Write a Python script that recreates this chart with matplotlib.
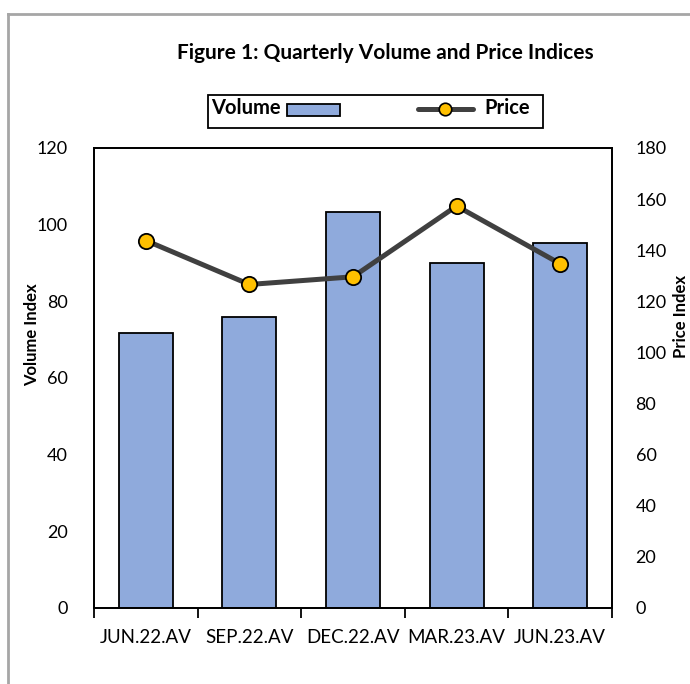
import numpy as np
import matplotlib.pyplot as plt
from matplotlib.lines import Line2D
from matplotlib.patches import Rectangle

# ============================================================
# data
# ============================================================
quarters = ["JUN.22.AV", "SEP.22.AV", "DEC.22.AV", "MAR.23.AV", "JUN.23.AV"]
volume_index = [71.8, 75.8, 103.4, 89.9, 95.3]
price_index = [143.8, 126.6, 129.6, 157.3, 134.7]

plt.rcParams["font.family"] = ["Lato", "DejaVu Sans"]

W, H = 690, 684
fig = plt.figure(figsize=(W / 100, H / 100), dpi=100)


def fx(x):
    return x / W


def fy(y):
    return 1 - y / H


ax = fig.add_axes([fx(94), fy(608), fx(612) - fx(94), fy(148) - fy(608)])
ax2 = ax.twinx()

x = np.arange(len(quarters))

ax.bar(x, volume_index, width=0.52, color="#8FAADC", edgecolor="black",
       linewidth=1.3, zorder=2)
ax2.plot(x, price_index, color="#404040", linewidth=3.6, marker="o",
         markersize=11, markerfacecolor="#FFC000", markeredgecolor="black",
         markeredgewidth=1.3, zorder=3)

ax.set_xlim(-0.5, len(quarters) - 0.5)
ax.set_ylim(0, 120)
ax2.set_ylim(0, 180)
ax.set_yticks(np.arange(0, 121, 20))
ax2.set_yticks(np.arange(0, 181, 20))

# category boundary ticks on x axis
ax.set_xticks(np.arange(len(quarters) + 1) - 0.5)
ax.set_xticklabels([])
ax.set_xticks(x, minor=True)
ax.set_xticklabels(quarters, minor=True, fontsize=13.5)
ax.tick_params(axis="x", which="major", length=7, width=1.3, direction="out")
ax.tick_params(axis="x", which="minor", length=0, pad=15)
ax.tick_params(axis="y", length=0, labelsize=13, pad=19)
ax2.tick_params(axis="y", length=0, labelsize=13, pad=17)

for a in (ax, ax2):
    for s in a.spines.values():
        s.set_linewidth(1.3)
        s.set_color("black")

ax.set_zorder(ax2.get_zorder() - 1)
ax.patch.set_visible(True)
ax2.patch.set_visible(False)

fig.text(fx(32), fy(335), "Volume Index", rotation=90, fontsize=12,
         fontweight="bold", ha="center", va="center")
fig.text(fx(681), fy(316), "Price Index", rotation=90, fontsize=12,
         fontweight="bold", ha="center", va="center")

fig.text(fx(385), fy(53), "Figure 1: Quarterly Volume and Price Indices",
         fontsize=15, fontweight="bold", ha="center", va="center")

# legend drawn by hand (Excel layout: text before patch, marker before text)
fig.add_artist(Rectangle((fx(208), fy(128)), fx(543) - fx(208),
                         fy(95) - fy(128), transform=fig.transFigure,
                         facecolor="white", edgecolor="black", linewidth=1.3))
fig.text(fx(211), fy(108), "Volume", fontsize=14.5, fontweight="bold",
         ha="left", va="center")
fig.add_artist(Rectangle((fx(287), fy(116)), fx(340) - fx(287),
                         fy(104) - fy(116), transform=fig.transFigure,
                         facecolor="#8FAADC", edgecolor="black", linewidth=1.3))
fig.add_artist(Line2D([fx(418), fx(473)], [fy(109), fy(109)],
                      transform=fig.transFigure, color="#404040",
                      linewidth=3.6, solid_capstyle="round"))
fig.add_artist(Line2D([fx(445)], [fy(109)], transform=fig.transFigure,
                      marker="o", markersize=9, markerfacecolor="#FFC000",
                      markeredgecolor="black", markeredgewidth=1.2))
fig.text(fx(484), fy(108), "Price", fontsize=14.5, fontweight="bold",
         ha="left", va="center")

# outer grey frame (left and top edges only visible)
fig.add_artist(Line2D([fx(8), fx(8)], [fy(14), 0], transform=fig.transFigure,
                      color="#A6A6A6", linewidth=2))
fig.add_artist(Line2D([fx(8), 1], [fy(14), fy(14)], transform=fig.transFigure,
                      color="#A6A6A6", linewidth=2))

fig.savefig("out.png", dpi=100)
